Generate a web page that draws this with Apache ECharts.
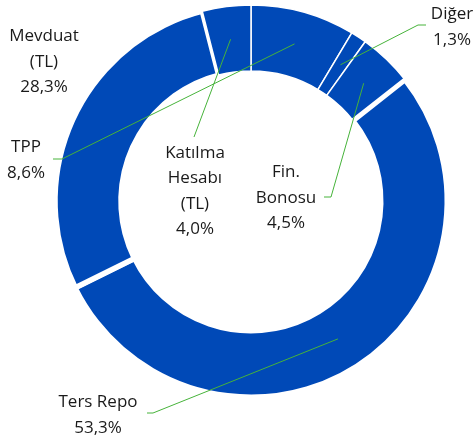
<!DOCTYPE html>
<html>
<head>
<meta charset="utf-8">
<script src="https://cdn.jsdelivr.net/npm/echarts@6/dist/echarts.min.js"></script>
<style>
  html, body { margin: 0; padding: 0; background: #fff; }
  #chart { width: 474px; height: 444px; }
</style>
</head>
<body>
<div id="chart"></div>
<script>
// slices, clockwise from 12 o'clock
var names = ["TPP", "Diğer", "Fin.\nBonosu", "Ters Repo", "Mevduat\n(TL)", "Katılma\nHesabı\n(TL)"];
var shares = [8.6, 1.3, 4.5, 53.3, 28.3, 4.0];

var blue = "#0049b7", green = "#46b33a";
var cx = 251, cy = 201, r0 = 130, r1 = 196;

// where each label sits and where its leader line ends (layout only)
var labelPos = [[26, 160], [452, 27], [286, 198], [98, 415], [44, 62], [195, 191]];
var lineEnd = [
    [[62, 159], [53, 159]],
    [[418, 25], [426, 25]],
    [[331, 197], [324, 197]],
    [[153, 413], [147, 413]],
    null,
    [[194, 137]]
];
var borders = [1.5, 1.5, 1.5, 5, 5.5, 1.5];

var total = shares.reduce(function (a, b) { return a + b; }, 0);

// leader line starts in the middle of the ring at the slice's mid angle
function lineStart(i) {
    var cum = 0;
    for (var k = 0; k < i; k++) cum += shares[k];
    var f = (cum + shares[i] / 2) / total;
    var a = (90 - f * 360) * Math.PI / 180;
    var rm = (r0 + r1) / 2;
    return [cx + rm * Math.cos(a), cy - rm * Math.sin(a)];
}

var data = names.map(function (n, i) {
    return {name: n, value: shares[i], itemStyle: {borderWidth: borders[i]}};
});

var leaders = [];
lineEnd.forEach(function (e, i) {
    if (!e) return;
    leaders.push({
        type: "polyline",
        z: 100,
        silent: true,
        shape: {points: [lineStart(i)].concat(e)},
        style: {stroke: green, lineWidth: 1, fill: null}
    });
});

var chart = echarts.init(document.getElementById("chart"), null, {renderer: "canvas"});
chart.setOption({
    animation: false,
    graphic: leaders,
    series: [{
        type: "pie",
        center: [cx, cy],
        radius: [r0, r1],
        startAngle: 90,
        clockwise: true,
        avoidLabelOverlap: false,
        data: data,
        itemStyle: {color: blue, borderColor: "#fff"},
        label: {
            show: true,
            position: "outside",
            color: "#1a1a1a",
            fontFamily: "Open Sans",
            fontSize: 17,
            lineHeight: 25.5,
            align: "center",
            formatter: function (p) {
                return p.name + "\n" + p.value.toFixed(1).replace(".", ",") + "%";
            }
        },
        labelLine: {show: false},
        labelLayout: function (p) {
            var i = p.dataIndex;
            return {x: labelPos[i][0], y: labelPos[i][1], align: "center", verticalAlign: "middle"};
        }
    }]
});
</script>
</body>
</html>
